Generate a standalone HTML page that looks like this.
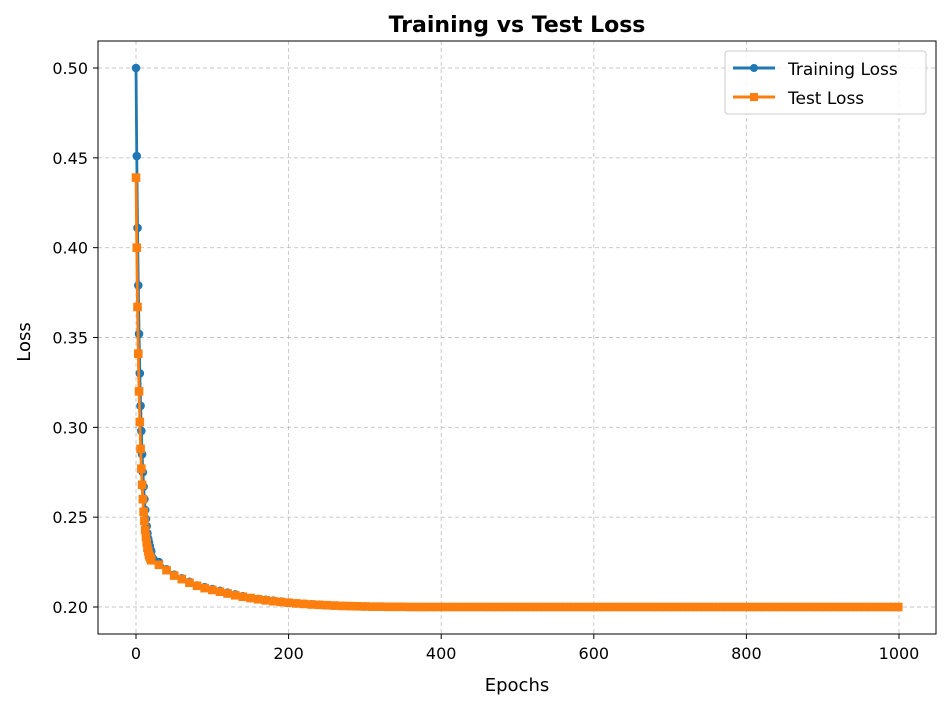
<!DOCTYPE html>
<html><head><meta charset="utf-8"><style>
body{margin:0;background:#fff;font-family:"DejaVu Sans","Liberation Sans",sans-serif;}
svg{display:block}
</style></head><body>
<svg id="chart" width="947" height="707" xmlns="http://www.w3.org/2000/svg">
<rect width="947" height="707" fill="#fff"/>
<g id="grid"></g>
<g id="series"></g>
<rect x="98" y="41" width="838" height="593" fill="none" stroke="#000" stroke-width="1"/>
<g id="ticks"></g>
<text x="517" y="32" text-anchor="middle" font-size="22" font-weight="bold">Training vs Test Loss</text>
<text x="517" y="691" text-anchor="middle" font-size="18">Epochs</text>
<text x="30" y="342" text-anchor="middle" font-size="18" transform="rotate(-90 30 342)">Loss</text>
<g>
<rect x="725" y="51" width="201" height="63" rx="3" fill="#fff" fill-opacity="0.85" stroke="#ccc"/>
<g>
<line x1="733" y1="68" x2="775" y2="68" stroke="#1f77b4" stroke-width="3"/><circle cx="754" cy="68" r="4" fill="#1f77b4"/>
<text x="788" y="75" font-size="17">Training Loss</text></g>
<g>
<line x1="733" y1="97" x2="775" y2="97" stroke="#ff7f0e" stroke-width="3"/><rect x="750" y="93" width="8" height="8" fill="#ff7f0e"/>
<text x="788" y="104" font-size="17">Test Loss</text></g>
</g>
</svg>
<script>
const epochs=[0,1,2,3,4,5,6,7,8,9,10,11,12,13,14,15,16,17,18,19,20,
30,40,50,60,70,80,90,100,110,120,130,140,150,160,170,180,190,200,210,220,230,240,250,260,270,280,290,300,
310,320,330,340,350,360,370,380,390,400,410,420,430,440,450,460,470,480,490,500,510,520,530,540,550,560,570,580,590,600,610,620,630,640,650,660,670,680,690,700,710,720,730,740,750,760,770,780,790,800,810,820,830,840,850,860,870,880,890,900,910,920,930,940,950,960,970,980,990,999];
const trainLoss=[0.500,0.451,0.411,0.379,0.352,0.330,0.312,0.298,0.285,0.275,0.267,0.260,0.254,0.249,0.245,0.241,0.238,0.236,0.234,0.232,0.231,
0.225,0.221,0.218,0.216,0.214,0.212,0.211,0.210,0.209,0.208,0.207,0.206,0.205,0.2045,0.204,0.2035,0.203,0.2025,0.202,0.2018,0.2015,0.2013,0.201,0.2008,0.2006,0.2005,0.2004,0.2003,
0.2002,0.2002,0.2001,0.2001,0.2001,0.2,0.2,0.2,0.2,0.2,0.2,0.2,0.2,0.2,0.2,0.2,0.2,0.2,0.2,0.2,0.2,0.2,0.2,0.2,0.2,0.2,0.2,0.2,0.2,0.2,0.2,0.2,0.2,0.2,0.2,0.2,0.2,0.2,0.2,0.2,0.2,0.2,0.2,0.2,0.2,0.2,0.2,0.2,0.2,0.2,0.2,0.2,0.2,0.2,0.2,0.2,0.2,0.2,0.2,0.2,0.2,0.2,0.2,0.2,0.2,0.2,0.2,0.2,0.2,0.2];
const testLoss=[0.439,0.400,0.367,0.341,0.320,0.303,0.288,0.277,0.268,0.260,0.253,0.248,0.243,0.239,0.236,0.233,0.231,0.229,0.228,0.227,0.226,
0.2235,0.2205,0.2175,0.2155,0.2135,0.2118,0.2105,0.2095,0.2085,0.2075,0.2065,0.2057,0.205,0.2043,0.2037,0.2032,0.2028,0.2024,0.202,0.2017,0.2014,0.2012,0.201,0.2008,0.2006,0.2005,0.2004,0.2003,
0.2002,0.2002,0.2001,0.2001,0.2001,0.2,0.2,0.2,0.2,0.2,0.2,0.2,0.2,0.2,0.2,0.2,0.2,0.2,0.2,0.2,0.2,0.2,0.2,0.2,0.2,0.2,0.2,0.2,0.2,0.2,0.2,0.2,0.2,0.2,0.2,0.2,0.2,0.2,0.2,0.2,0.2,0.2,0.2,0.2,0.2,0.2,0.2,0.2,0.2,0.2,0.2,0.2,0.2,0.2,0.2,0.2,0.2,0.2,0.2,0.2,0.2,0.2,0.2,0.2,0.2,0.2,0.2,0.2,0.2,0.2];
const xTicks=[0,200,400,600,800,1000];
const yTicks=[0.20,0.25,0.30,0.35,0.40,0.45,0.50];
const yTickLabels=["0.20","0.25","0.30","0.35","0.40","0.45","0.50"];

const NS="http://www.w3.org/2000/svg";
const xS=e=>136+e*(899-136)/1000;
const yS=v=>607-(v-0.2)*(607-68)/0.3;
function mk(tag,attrs,parent){const el=document.createElementNS(NS,tag);for(const k in attrs)el.setAttribute(k,attrs[k]);parent.appendChild(el);return el;}
const grid=document.getElementById('grid'),ticks=document.getElementById('ticks'),series=document.getElementById('series');
xTicks.forEach(t=>{const x=xS(t);
 const g=mk('line',{x1:x,x2:x,y1:41,y2:634,stroke:'#b0b0b0','stroke-width':0.9,'stroke-dasharray':'4,3','stroke-opacity':0.75},grid);
 
 
 const tk=mk('line',{x1:x,x2:x,y1:634,y2:639,stroke:'#000'},ticks);
 
 
 const tx=mk('text',{x:x,y:659,'text-anchor':'middle','font-size':16},ticks);tx.textContent=t;
 
 
});
yTicks.forEach((t,i)=>{const y=yS(t);
 const g=mk('line',{x1:98,x2:936,y1:y,y2:y,stroke:'#b0b0b0','stroke-width':0.9,'stroke-dasharray':'4,3','stroke-opacity':0.75},grid);
 
 
 const tk=mk('line',{x1:93,x2:98,y1:y,y2:y,stroke:'#000'},ticks);
 
 
 const tx=mk('text',{x:88,y:y+6,'text-anchor':'end','font-size':16},ticks);tx.textContent=yTickLabels[i];
 
 
});
function drawSeries(vals,color,square,name){
 const pts=epochs.map((e,i)=>xS(e)+','+yS(vals[i])).join(' ');
 const pl=mk('polyline',{points:pts,fill:'none',stroke:color,'stroke-width':2.8,'stroke-linejoin':'round'},series);
 
 
 epochs.forEach((e,i)=>{const x=xS(e),y=yS(vals[i]);let m;
  if(square)m=mk('rect',{x:x-4.3,y:y-4.3,width:8.6,height:8.6,fill:color},series);
  else m=mk('circle',{cx:x,cy:y,r:4.3,fill:color},series);
  
  
 });
}
drawSeries(trainLoss,'#1f77b4',false,'training-loss');
drawSeries(testLoss,'#ff7f0e',true,'test-loss');
</script>
</body></html>
